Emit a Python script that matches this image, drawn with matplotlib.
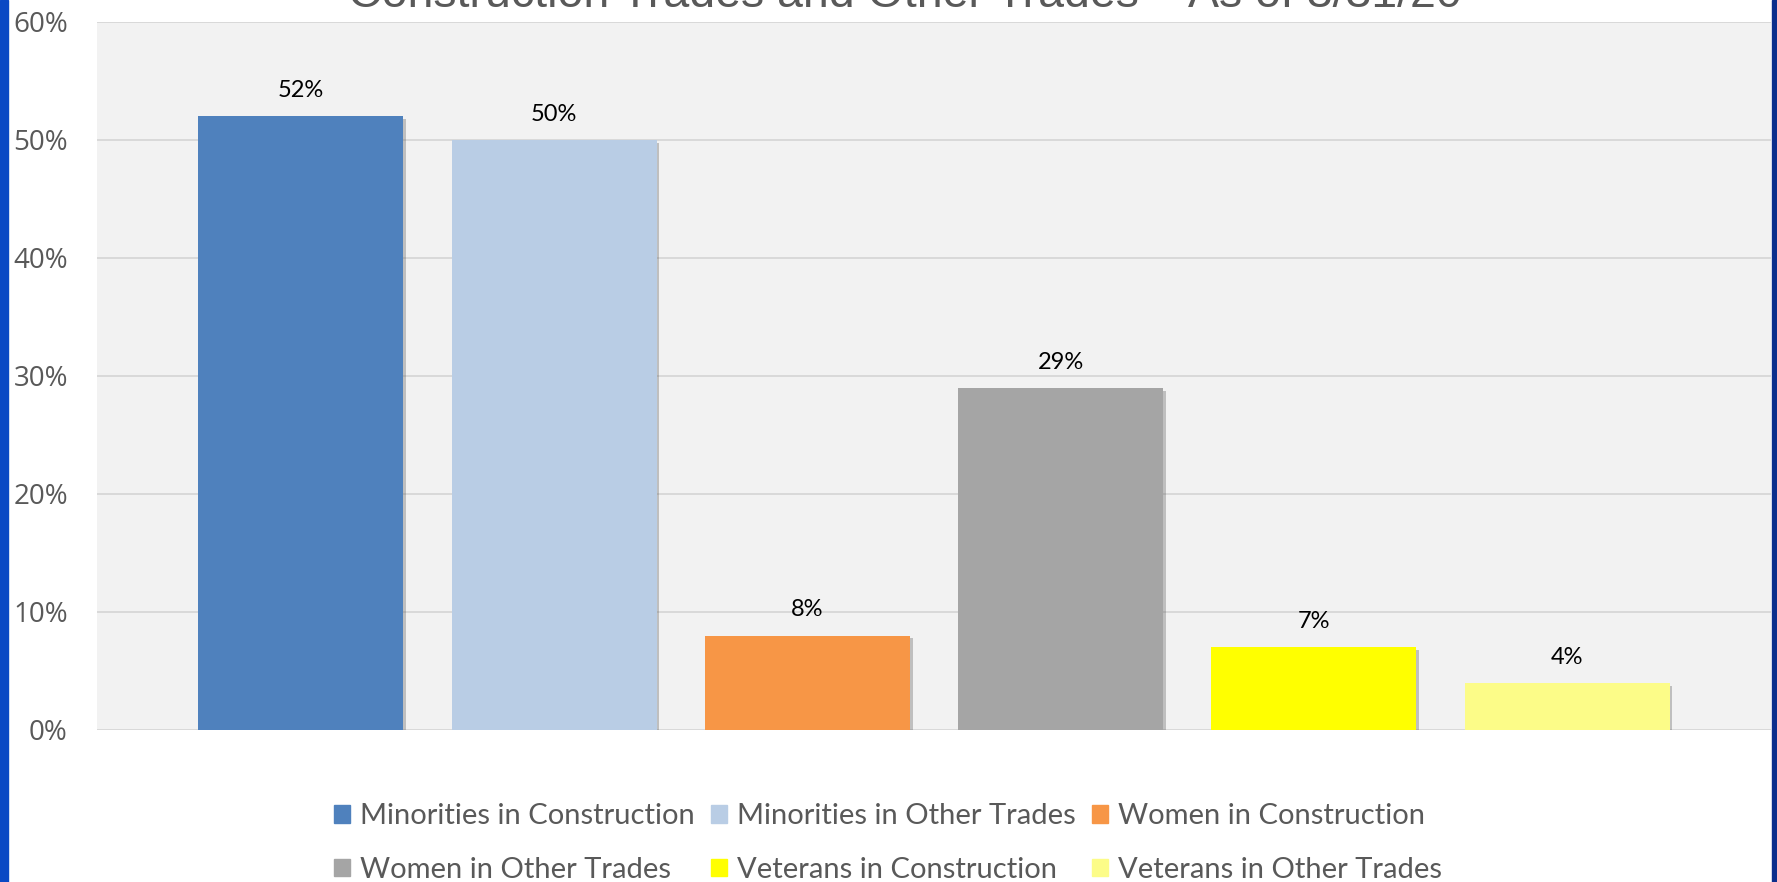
import matplotlib
matplotlib.use('Agg')
import matplotlib.pyplot as plt  # noqa
from matplotlib.patches import Rectangle
from matplotlib import patheffects as pe

categories = [
    'Minorities in Construction',
    'Minorities in Other Trades',
    'Women in Construction',
    'Women in Other Trades',
    'Veterans in Construction',
    'Veterans in Other Trades',
]
values = [0.52, 0.50, 0.08, 0.29, 0.07, 0.04]
labels = ['52%', '50%', '8%', '29%', '7%', '4%']
colors = ['#4F81BD', '#B9CDE5', '#F79646', '#A5A5A5', '#FFFF00', '#FCFC88']
yticks = [0, 0.1, 0.2, 0.3, 0.4, 0.5, 0.6]
ytick_labels = ['0%', '10%', '20%', '30%', '40%', '50%', '60%']
title = 'Construction Trades and Other Trades \u2013 As of 3/31/20'

W, H = 1777, 882
fig = plt.figure(figsize=(W / 100, H / 100), dpi=100)
fig.patch.set_facecolor('white')

# blue slide border showing at the edges
fig.patches.append(Rectangle((0, 0), 8 / W, 1, transform=fig.transFigure,
                             color='#0A48C4', zorder=0))
fig.patches.append(Rectangle((1772 / W, 0), 5 / W, 1,
                             transform=fig.transFigure,
                             color='#0B2E8C', zorder=0))

ax = fig.add_axes([97 / W, 152 / H, 1674 / W, 708 / H])
ax.set_facecolor('#F2F2F2')
for s in ax.spines.values():
    s.set_visible(False)

x = list(range(len(values)))
bars = ax.bar(x, values, width=0.81, color=colors, zorder=3)
for b in bars:
    b.set_path_effects([pe.SimplePatchShadow(offset=(2, -2), alpha=0.35,
                                             shadow_rgbFace='#606060'),
                        pe.Normal()])

for xi, v, lab in zip(x, values, labels):
    ax.annotate(lab, (xi, v), xytext=(0, 11), textcoords='offset points',
                ha='center', va='bottom', fontsize=17, family='Lato',
                color='black')

ax.set_xlim(-0.805, 5.805)
ax.set_ylim(0, 0.6)
ax.set_xticks([])
ax.set_yticks(yticks)
ax.set_yticklabels(ytick_labels, fontsize=20, family='Open Sans',
                   color='#595959')
ax.tick_params(axis='y', length=0, pad=21)
ax.yaxis.grid(True, color='#D9D9D9', linewidth=1.4, zorder=0)
ax.set_axisbelow(True)

# title is cut off by the screenshot, only its lower half shows
fig.text(905 / W, 1 - 7 / H, title, ha='center', va='baseline',
         fontsize=33.5, family='Liberation Sans', color='#595959')

order = [0, 3, 1, 4, 2, 5]
handles = [Rectangle((0, 0), 1, 1, color=colors[i]) for i in order]
leg_labels = [categories[i] for i in order]
fig.legend(handles, leg_labels, loc='center', ncol=3,
           bbox_to_anchor=(888 / W, 39 / H), frameon=False,
           prop={'family': 'Lato', 'size': 21},
           labelcolor='#595959', handlelength=0.55, handleheight=0.55,
           handletextpad=0.35, columnspacing=0.55, labelspacing=0.95)

fig.savefig('out.png', dpi=100)
